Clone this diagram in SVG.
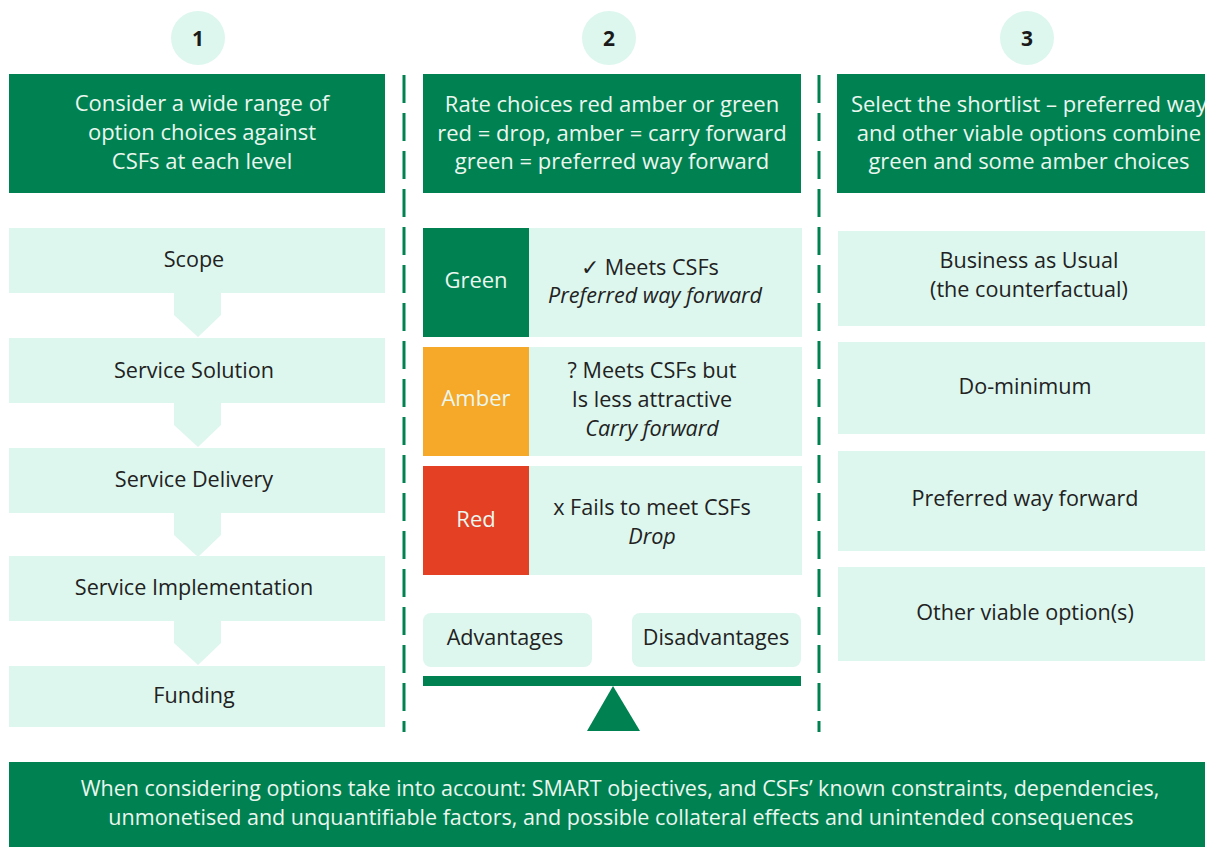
<svg xmlns="http://www.w3.org/2000/svg" width="1205" height="847" viewBox="0 0 1205 847">
<style>
.hdr{fill:#008151}
.lt{fill:#DDF7EE}
.wt{font-family:"Open Sans","Noto Sans",sans-serif;font-size:22px;fill:#EAF7EF;text-anchor:middle}
.dt{font-family:"Open Sans","Noto Sans",sans-serif;font-size:21.6px;fill:#222;text-anchor:middle}
.it{font-style:italic}
.num{font-family:"Open Sans","Noto Sans",sans-serif;font-size:21px;font-weight:bold;fill:#1a1a1a;text-anchor:middle}
.dash{stroke:#008151;stroke-width:3;stroke-dasharray:28 10;fill:none}
</style>
<rect width="1205" height="847" fill="#fff"/>
<g id="dividers">
<line class="dash" x1="404" y1="75" x2="404" y2="732"/>
<line class="dash" x1="819" y1="75" x2="819" y2="732"/>
</g>
<g id="step1"><circle class="lt" cx="198" cy="38" r="27"/><text class="num" x="198" y="46">1</text></g>
<g id="step2"><circle class="lt" cx="609" cy="38" r="27"/><text class="num" x="609" y="46">2</text></g>
<g id="step3"><circle class="lt" cx="1027" cy="38" r="27"/><text class="num" x="1027" y="46">3</text></g>
<g id="header1"><rect class="hdr" x="9" y="74" width="376" height="119"/>
<text class="wt" x="202" y="111">Consider a wide range of</text>
<text class="wt" x="202" y="140">option choices against</text>
<text class="wt" x="202" y="169">CSFs at each level</text></g>
<g id="header2"><rect class="hdr" x="423" y="74" width="378" height="119"/>
<text class="wt" x="612" y="112">Rate choices red amber or green</text>
<text class="wt" x="612" y="141">red = drop, amber = carry forward</text>
<text class="wt" x="612" y="169">green = preferred way forward</text></g>
<g id="header3"><rect class="hdr" x="837" y="74" width="368" height="119"/>
<text class="wt" x="1029" y="112">Select the shortlist – preferred way</text>
<text class="wt" x="1029" y="141">and other viable options combine</text>
<text class="wt" x="1029" y="169">green and some amber choices</text></g>
<g id="connectors" class="lt">
<polygon points="174,293 221,293 221,315 198,337 174,315"/>
<polygon points="174,403 221,403 221,425 198,447 174,425"/>
<polygon points="174,513 221,513 221,535 198,557 174,535"/>
<polygon points="174,621 221,621 221,643 198,665 174,643"/>
</g>
<g id="scope"><rect class="lt" x="9" y="228" width="376" height="65"/><text class="dt" x="194" y="267">Scope</text></g>
<g id="solution"><rect class="lt" x="9" y="338" width="376" height="65"/><text class="dt" x="194" y="378">Service Solution</text></g>
<g id="delivery"><rect class="lt" x="9" y="448" width="376" height="65"/><text class="dt" x="194" y="487">Service Delivery</text></g>
<g id="implementation"><rect class="lt" x="9" y="556" width="376" height="65"/><text class="dt" x="194" y="595">Service Implementation</text></g>
<g id="funding"><rect class="lt" x="9" y="666" width="376" height="61"/><text class="dt" x="194" y="703">Funding</text></g>
<g id="green"><rect class="lt" x="529" y="228" width="273" height="109"/><rect fill="#008151" x="423" y="228" width="106" height="109"/>
<text class="wt" x="476" y="288">Green</text>
<text class="dt" x="650" y="275">✓ Meets CSFs</text>
<text class="dt it" x="655" y="303">Preferred way forward</text></g>
<g id="amber"><rect class="lt" x="529" y="347" width="273" height="109"/><rect fill="#F6A828" x="423" y="347" width="106" height="109"/>
<text class="wt" x="476" y="406">Amber</text>
<text class="dt" x="652" y="378">? Meets CSFs but</text>
<text class="dt" x="652" y="407">Is less attractive</text>
<text class="dt it" x="652" y="436">Carry forward</text></g>
<g id="red"><rect class="lt" x="529" y="466" width="273" height="109"/><rect fill="#E34024" x="423" y="466" width="106" height="109"/>
<text class="wt" x="476" y="527">Red</text>
<text class="dt" x="652" y="515">x Fails to meet CSFs</text>
<text class="dt it" x="652" y="544">Drop</text></g>
<g id="advantages"><rect class="lt" x="423" y="613" width="169" height="54" rx="8"/><text class="dt" x="505" y="645">Advantages</text></g>
<g id="disadvantages"><rect class="lt" x="632" y="613" width="169" height="54" rx="8"/><text class="dt" x="716" y="645">Disadvantages</text></g>
<g id="balance"><rect fill="#008151" x="423" y="676" width="378" height="10"/><polygon fill="#008151" points="613,686 640,731 587,731"/></g>
<g id="bau"><rect class="lt" x="838" y="231" width="367" height="95"/><text class="dt" x="1029" y="268">Business as Usual</text><text class="dt" x="1029" y="297">(the counterfactual)</text></g>
<g id="dominimum"><rect class="lt" x="838" y="342" width="367" height="92"/><text class="dt" x="1025" y="394">Do-minimum</text></g>
<g id="preferred"><rect class="lt" x="838" y="451" width="367" height="100"/><text class="dt" x="1025" y="506">Preferred way forward</text></g>
<g id="other"><rect class="lt" x="838" y="567" width="367" height="94"/><text class="dt" x="1025" y="620">Other viable option(s)</text></g>
<g id="footer"><rect class="hdr" x="9" y="762" width="1196" height="85"/>
<text class="wt" x="620" y="796" style="font-size:21.5px">When considering options take into account: SMART objectives, and CSFs’ known constraints, dependencies,</text>
<text class="wt" x="621" y="825" style="font-size:21.5px">unmonetised and unquantifiable factors, and possible collateral effects and unintended consequences</text></g>
</svg>
